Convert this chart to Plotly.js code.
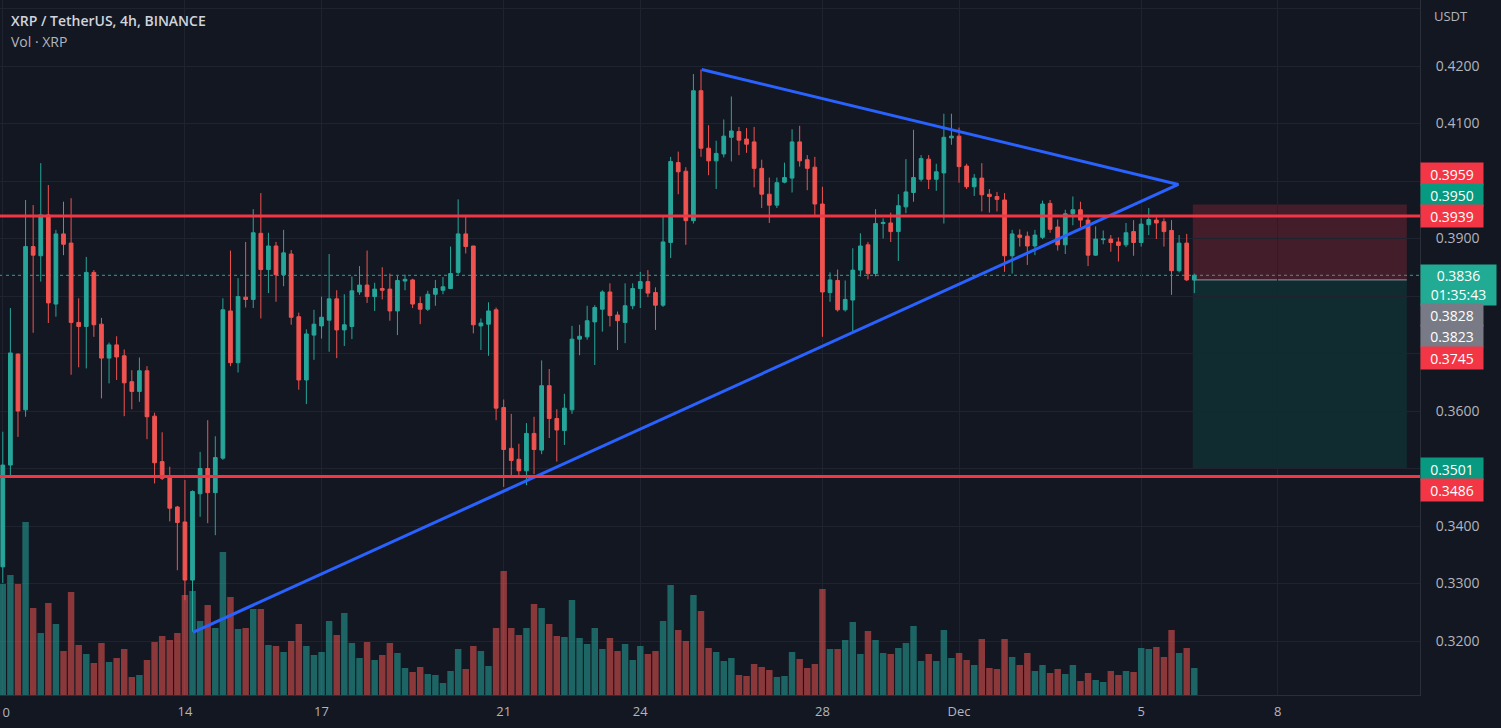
<!DOCTYPE html>
<html>
<head>
<meta charset="utf-8">
<script src="https://cdn.plot.ly/plotly-3.0.1.min.js"></script>
<style>
  html, body { margin: 0; padding: 0; background: #131722; overflow: hidden; }
  #chart { width: 1501px; height: 728px; }
</style>
</head>
<body>
<div id="chart"></div>
<script>
// XRP/USDT 4h bars, Nov 10 00:00 .. Dec 6 04:00 (bar index 0..157)
const open = [
  0.3329,0.3506,0.3699,0.3602,0.3886,0.3870,0.3941,0.3786,0.3908,0.3892,
  0.3754,0.3747,0.3841,0.3751,0.3692,0.3715,0.3696,0.3651,0.3634,0.3670,
  0.3591,0.3512,0.3487,0.3433,0.3407,0.3306,0.3456,0.3500,0.3458,0.3518,
  0.3774,0.3684,0.3798,0.3794,0.3909,0.3846,0.3887,0.3837,0.3873,0.3764,
  0.3654,0.3732,0.3748,0.3758,0.3795,0.3741,0.3747,0.3807,0.3819,0.3799,
  0.3813,0.3812,0.3774,0.3826,0.3828,0.3787,0.3777,0.3803,0.3810,0.3813,
  0.3841,0.3908,0.3887,0.3748,0.3751,0.3776,0.3606,0.3535,0.3516,0.3496,
  0.3561,0.3532,0.3644,0.3587,0.3566,0.3602,0.3725,0.3729,0.3755,0.3777,
  0.3807,0.3767,0.3754,0.3783,0.3813,0.3825,0.3806,0.3784,0.3893,0.4032,
  0.4017,0.3931,0.4157,0.4057,0.4035,0.4047,0.4076,0.4086,0.4073,0.4068,
  0.4022,0.3977,0.3958,0.3998,0.4005,0.4068,0.4037,0.4024,0.3960,0.3806,
  0.3827,0.3776,0.3793,0.3845,0.3889,0.3839,0.3926,0.3927,0.3912,0.3955,
  0.3980,0.4003,0.4038,0.4003,0.4014,0.4075,0.4078,0.4026,0.3990,0.4005,
  0.3977,0.3973,0.3967,0.3870,0.3906,0.3904,0.3887,0.3902,0.3961,0.3920,
  0.3889,0.3943,0.3950,0.3932,0.3871,0.3898,0.3899,0.3894,0.3889,0.3912,
  0.3893,0.3924,0.3932,0.3929,0.3914,0.3844,0.3892,0.3828
];
const high = [
  0.3564,0.3779,0.3700,0.3967,0.3958,0.4031,0.3993,0.3915,0.3964,0.3970,
  0.3796,0.3868,0.3845,0.3762,0.3719,0.3730,0.3707,0.3671,0.3693,0.3678,
  0.3597,0.3563,0.3503,0.3435,0.3480,0.3462,0.3529,0.3584,0.3556,0.3796,
  0.3879,0.3831,0.3894,0.3951,0.3979,0.3910,0.3894,0.3915,0.3880,0.3771,
  0.3742,0.3776,0.3799,0.3873,0.3810,0.3803,0.3834,0.3852,0.3879,0.3823,
  0.3850,0.3839,0.3835,0.3837,0.3830,0.3799,0.3809,0.3828,0.3833,0.3886,
  0.3968,0.3941,0.3887,0.3761,0.3789,0.3780,0.3620,0.3595,0.3543,0.3579,
  0.3590,0.3688,0.3673,0.3603,0.3630,0.3748,0.3750,0.3783,0.3784,0.3810,
  0.3822,0.3773,0.3822,0.3822,0.3842,0.3845,0.3815,0.3938,0.4042,0.4051,
  0.4024,0.4186,0.4194,0.4097,0.4070,0.4107,0.4147,0.4094,0.4092,0.4094,
  0.4037,0.4006,0.4006,0.4032,0.4090,0.4096,0.4045,0.4042,0.3990,0.3841,
  0.3846,0.3827,0.3883,0.3909,0.3894,0.3951,0.3935,0.3945,0.3977,0.4038,
  0.4089,0.4045,0.4045,0.4030,0.4117,0.4117,0.4093,0.4030,0.4012,0.4031,
  0.3986,0.3981,0.3979,0.3915,0.3916,0.3912,0.3915,0.3966,0.3967,0.3933,
  0.3950,0.3973,0.3964,0.3939,0.3921,0.3914,0.3906,0.3902,0.3927,0.3932,
  0.3935,0.3953,0.3938,0.3935,0.3932,0.3906,0.3908,0.3839
];
const low = [
  0.3301,0.3486,0.3555,0.3590,0.3736,0.3825,0.3753,0.3764,0.3871,0.3663,
  0.3676,0.3674,0.3729,0.3622,0.3648,0.3654,0.3591,0.3603,0.3616,0.3551,
  0.3474,0.3480,0.3408,0.3323,0.3271,0.3216,0.3416,0.3405,0.3384,0.3515,
  0.3678,0.3667,0.3780,0.3779,0.3761,0.3805,0.3790,0.3817,0.3750,0.3637,
  0.3612,0.3689,0.3726,0.3703,0.3692,0.3713,0.3725,0.3802,0.3788,0.3774,
  0.3794,0.3757,0.3732,0.3810,0.3779,0.3751,0.3774,0.3783,0.3803,0.3812,
  0.3837,0.3874,0.3735,0.3706,0.3696,0.3584,0.3468,0.3486,0.3485,0.3471,
  0.3490,0.3525,0.3553,0.3512,0.3541,0.3595,0.3697,0.3724,0.3680,0.3738,
  0.3747,0.3706,0.3718,0.3777,0.3779,0.3798,0.3741,0.3781,0.3866,0.3977,
  0.3889,0.3926,0.4042,0.4010,0.3986,0.4041,0.4034,0.4045,0.4049,0.3989,
  0.3953,0.3927,0.3953,0.3996,0.3980,0.4025,0.3984,0.3941,0.3729,0.3790,
  0.3773,0.3773,0.3736,0.3834,0.3829,0.3834,0.3900,0.3894,0.3861,0.3944,
  0.3964,0.3999,0.3986,0.3983,0.3926,0.4063,0.3997,0.3986,0.3974,0.3947,
  0.3945,0.3947,0.3842,0.3839,0.3886,0.3854,0.3871,0.3899,0.3910,0.3879,
  0.3873,0.3923,0.3920,0.3852,0.3870,0.3890,0.3877,0.3860,0.3885,0.3870,
  0.3886,0.3906,0.3899,0.3886,0.3802,0.3841,0.3826,0.3805
];
const close = [
  0.3506,0.3701,0.3600,0.3886,0.3871,0.3941,0.3788,0.3908,0.3890,0.3754,
  0.3747,0.3841,0.3750,0.3692,0.3715,0.3694,0.3649,0.3634,0.3670,0.3590,
  0.3510,0.3483,0.3431,0.3406,0.3306,0.3460,0.3500,0.3458,0.3519,0.3776,
  0.3684,0.3799,0.3794,0.3910,0.3846,0.3887,0.3837,0.3875,0.3763,0.3654,
  0.3734,0.3751,0.3763,0.3795,0.3741,0.3750,0.3809,0.3819,0.3799,0.3812,
  0.3810,0.3774,0.3827,0.3829,0.3786,0.3777,0.3803,0.3813,0.3816,0.3839,
  0.3908,0.3886,0.3750,0.3753,0.3774,0.3605,0.3533,0.3514,0.3496,0.3561,
  0.3533,0.3644,0.3587,0.3567,0.3605,0.3725,0.3730,0.3757,0.3780,0.3807,
  0.3766,0.3757,0.3783,0.3813,0.3825,0.3805,0.3784,0.3894,0.4034,0.4016,
  0.3931,0.4157,0.4057,0.4035,0.4048,0.4078,0.4087,0.4071,0.4064,0.4022,
  0.3977,0.3958,0.3997,0.4006,0.4068,0.4035,0.4022,0.3960,0.3807,0.3828,
  0.3776,0.3794,0.3845,0.3887,0.3839,0.3926,0.3928,0.3912,0.3957,0.3981,
  0.4006,0.4039,0.4003,0.4016,0.4076,0.4078,0.4025,0.3990,0.4005,0.3976,
  0.3973,0.3968,0.3870,0.3908,0.3902,0.3887,0.3906,0.3960,0.3916,0.3889,
  0.3943,0.3950,0.3932,0.3871,0.3899,0.3899,0.3893,0.3888,0.3910,0.3893,
  0.3925,0.3933,0.3927,0.3912,0.3844,0.3892,0.3828,0.3836
];
// volume, millions XRP (estimated)
const volume = [
  11.1,12.0,11.1,17.3,8.7,6.2,9.2,7.1,4.4,10.3,
  5.0,4.1,3.2,5.2,3.3,3.7,4.6,1.8,2.0,3.5,
  5.3,5.9,5.5,6.2,10.0,10.4,7.4,9.0,6.7,14.3,
  9.8,6.6,6.7,8.6,8.6,5.0,4.9,4.3,5.4,7.1,
  4.9,4.0,4.3,7.4,6.0,8.2,5.2,3.7,5.3,3.5,
  4.0,5.2,4.2,2.7,2.3,2.8,2.1,2.0,1.2,2.4,
  4.6,2.6,4.9,4.4,2.9,6.7,12.4,6.7,6.0,6.7,
  9.1,8.7,7.1,5.9,5.8,9.5,5.7,5.1,6.7,4.6,
  5.7,4.4,5.1,3.5,4.9,4.1,4.4,7.4,11.0,6.5,
  5.4,10.0,8.4,4.7,4.3,3.4,3.7,2.0,1.9,3.1,
  2.8,2.5,1.8,1.9,4.3,3.6,2.7,3.1,10.6,4.6,
  4.6,5.5,7.3,4.1,6.4,5.5,4.2,4.1,4.7,5.2,
  6.9,3.4,4.1,3.4,6.5,3.7,4.2,3.5,3.0,5.6,
  2.7,2.6,5.6,3.8,3.0,4.2,2.4,3.0,2.2,2.6,
  2.1,3.0,1.4,2.2,1.5,1.3,2.4,2.0,2.4,2.3,
  4.7,4.6,4.8,3.8,6.5,4.2,4.7,2.7
];

const dayTicks = [0, 24, 42, 66, 84, 108, 126, 150, 168];
const dayLabels = ['10', '14', '17', '21', '24', '28', 'Dec', '5', '8'];

const priceTicks = [0.32, 0.33, 0.34, 0.35, 0.36, 0.37, 0.38, 0.39, 0.40, 0.41, 0.42, 0.43];
const priceTickText = ['0.3200', '0.3300', '0.3400', '', '0.3600', '', '', '0.3900', '', '0.4100', '0.4200', ''];

// drawings
const levels = [0.3939, 0.3486];
const triangleX = [25.06, 154.9, 92.1];
const triangleY = [0.3215, 0.3994, 0.4194];
const lastPrice = 0.3836;
const timer = '01:35:43';
const posStart = 156.8, posEnd = 185;
const posEntry = 0.3828, posStop = 0.3959, posTarget = 0.3501;

const tagValues = [0.3959, 0.3950, 0.3939, 0.3836, 0.3828, 0.3823, 0.3745, 0.3501, 0.3486];
const tagColors = ['#f23645', '#089981', '#f23645', '#22ab94', '#787b86', '#787b86', '#f23645', '#089981', '#f23645'];
const tagShift = [30.6, 14.8, 0, -10, -34.8, -53.6, -30, -1.4, -13.8];

const idx = open.map((_, i) => i);
const UP = '#26a69a', DOWN = '#ef5350';
const FONT = 'Open Sans, Roboto, sans-serif';

const volTrace = {
  type: 'bar',
  x: idx,
  y: volume,
  width: 0.85,
  marker: {
    color: idx.map(i => close[i] >= open[i] ? 'rgba(38,166,154,0.55)' : 'rgba(239,83,80,0.55)'),
    line: {width: 0}
  },
  yaxis: 'y',
  hoverinfo: 'skip'
};

const candles = {
  type: 'candlestick',
  x: idx, open: open, high: high, low: low, close: close,
  increasing: {line: {color: UP, width: 1}, fillcolor: UP},
  decreasing: {line: {color: DOWN, width: 1}, fillcolor: DOWN},
  whiskerwidth: 0,
  yaxis: 'y2',
  hoverinfo: 'skip'
};

const triangle = {
  type: 'scatter', mode: 'lines',
  x: triangleX, y: triangleY,
  line: {color: '#2962ff', width: 3},
  yaxis: 'y2',
  hoverinfo: 'skip'
};

const shapes = [
  {type: 'rect', xref: 'x', yref: 'y2', x0: posStart, x1: posEnd, y0: posEntry, y1: posStop,
   fillcolor: 'rgba(242,54,69,0.22)', line: {width: 0}, layer: 'below'},
  {type: 'rect', xref: 'x', yref: 'y2', x0: posStart, x1: posEnd, y0: posTarget, y1: posEntry,
   fillcolor: 'rgba(8,153,129,0.16)', line: {width: 0}, layer: 'below'},
  {type: 'line', xref: 'x', yref: 'y2', x0: posStart, x1: posEnd, y0: posEntry, y1: posEntry,
   line: {color: '#9598a1', width: 1}, layer: 'below'},
  {type: 'line', xref: 'paper', yref: 'y2', x0: 0, x1: 1, y0: lastPrice, y1: lastPrice,
   line: {color: UP, width: 1, dash: 'dot'}, layer: 'below'}
];
levels.forEach(v => shapes.push({
  type: 'line', xref: 'paper', yref: 'y2', x0: 0, x1: 1, y0: v, y1: v,
  line: {color: '#f23645', width: 3}, layer: 'above'
}));

const annotations = [
  {xref: 'paper', yref: 'paper', x: 0, y: 1, xshift: 9, yshift: -20, xanchor: 'left', yanchor: 'middle',
   text: 'XRP / TetherUS, 4h, BINANCE', showarrow: false,
   font: {family: FONT, size: 14, color: '#d1d4dc', weight: 600}},
  {xref: 'paper', yref: 'paper', x: 0, y: 1, xshift: 9, yshift: -41, xanchor: 'left', yanchor: 'middle',
   text: 'Vol · XRP', showarrow: false,
   font: {family: FONT, size: 14, color: '#b2b5be'}},
  {xref: 'paper', yref: 'paper', x: 1, y: 1, xshift: 12, yshift: -16, xanchor: 'left', yanchor: 'middle',
   text: 'USDT', showarrow: false,
   font: {family: FONT, size: 13, color: '#b2b5be'}},
  // first day label sits on the left edge and is cut by it
  {xref: 'x', yref: 'paper', x: dayTicks[0], y: 0, yshift: -17, xanchor: 'center', yanchor: 'middle',
   text: dayLabels[0], showarrow: false,
   font: {family: FONT, size: 13, color: '#b2b5be'}}
];
tagValues.forEach((v, k) => {
  const isLast = v === lastPrice;
  annotations.push({
    xref: 'paper', yref: 'y2', x: 1, y: v, xanchor: 'left', yanchor: 'middle',
    yshift: tagShift[k],
    text: isLast ? v.toFixed(4) + '<br>' + timer : v.toFixed(4),
    showarrow: false, align: 'center',
    width: isLast ? 71 : 58, height: isLast ? 36 : 18, borderpad: 2,
    bgcolor: tagColors[k],
    font: {family: FONT, size: 14, color: '#ffffff'}
  });
});

const layout = {
  width: 1501, height: 728,
  margin: {l: 0, r: 81, t: 0, b: 33},
  paper_bgcolor: '#131722', plot_bgcolor: '#131722',
  showlegend: false,
  font: {family: FONT, color: '#b2b5be', size: 13},
  xaxis: {
    range: [-0.369, 186.74],
    tickmode: 'array', tickvals: dayTicks, ticktext: dayLabels,
    showgrid: true, gridcolor: '#1f232f', zeroline: false,
    showline: true, linecolor: '#2a2e39',
    ticks: '', ticklabelstandoff: 4,
    tickfont: {family: FONT, size: 13, color: '#b2b5be'},
    rangeslider: {visible: false}, fixedrange: true
  },
  yaxis: {range: [0, 69.5], visible: false, fixedrange: true},
  yaxis2: {
    overlaying: 'y', side: 'right',
    range: [0.310609, 0.431478],
    tickmode: 'array', tickvals: priceTicks, ticktext: priceTickText,
    showgrid: true, gridcolor: '#1f232f', zeroline: false,
    showline: true, linecolor: '#2a2e39',
    ticks: '', ticklabelstandoff: 12,
    tickfont: {family: FONT, size: 14, color: '#b2b5be'},
    fixedrange: true
  },
  shapes: shapes,
  annotations: annotations,
  hovermode: false
};

Plotly.newPlot('chart', [volTrace, candles, triangle], layout, {displayModeBar: false, staticPlot: true});
</script>
</body>
</html>
